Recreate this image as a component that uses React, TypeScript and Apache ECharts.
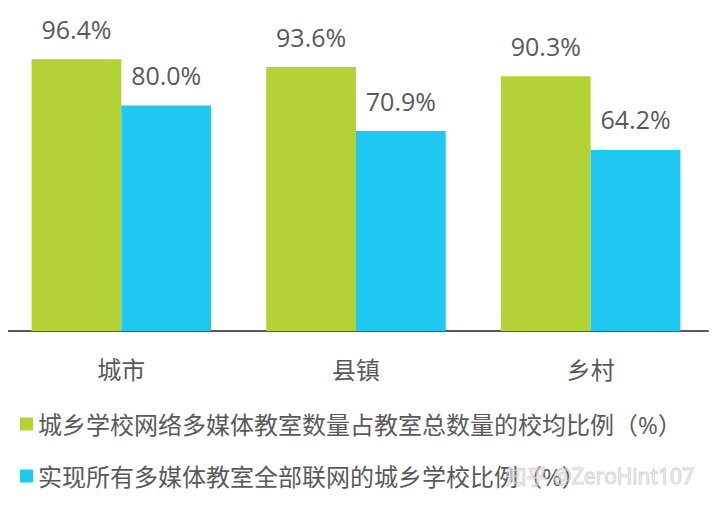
import React, { useEffect, useRef } from "react";
import * as echarts from "echarts";

const categories = ["城市", "县镇", "乡村"];
const seriesNames = [
  "城乡学校网络多媒体教室数量占教室总数量的校均比例（%）",
  "实现所有多媒体教室全部联网的城乡学校比例（%）",
];
const multimediaRatio = [96.4, 93.6, 90.3];
const networkedRatio = [80.0, 70.9, 64.2];

const FONT = "'Open Sans', 'Noto Sans CJK SC', sans-serif";
const TEXT = "#595959";
const GREEN = "#b2d235";
const CYAN = "#1fc8f0";

export default function App() {
  const ref = useRef<HTMLDivElement>(null);
  useEffect(() => {
    if (!ref.current) return;
    const chart = echarts.init(ref.current, null, { renderer: "svg" });
    const label = {
      show: true,
      position: "top",
      distance: 18,
      fontSize: 25,
      color: TEXT,
      fontFamily: FONT,
      formatter: (p: any) => p.value.toFixed(1) + "%",
    };
    const legendCommon = {
      left: 20,
      padding: 0,
      itemWidth: 13,
      itemHeight: 13,
      icon: "rect",
      textStyle: { fontSize: 24, color: TEXT, fontFamily: FONT },
      selectedMode: false,
    };
    chart.setOption({
      animation: false,
      textStyle: { fontFamily: FONT },
      grid: { left: 4, right: 10, top: 49, bottom: 176, containLabel: false },
      xAxis: {
        type: "category",
        data: categories,
        axisLine: { show: true, lineStyle: { color: TEXT, width: 2 } },
        axisTick: { show: false },
        axisLabel: { fontSize: 24, color: TEXT, margin: 26, fontFamily: FONT },
      },
      yAxis: { type: "value", min: 0, max: 100, show: false },
      legend: [
        { ...legendCommon, data: [seriesNames[0]], top: 412 },
        { ...legendCommon, data: [seriesNames[1]], top: 464 },
      ],
      series: [
        {
          name: seriesNames[0],
          type: "bar",
          data: multimediaRatio,
          itemStyle: { color: GREEN },
          barGap: "0%",
          barCategoryGap: "23.5%",
          label,
        },
        {
          name: seriesNames[1],
          type: "bar",
          data: networkedRatio,
          itemStyle: { color: CYAN },
          barGap: "0%",
          barCategoryGap: "23.5%",
          label,
        },
      ],
      graphic: [
        {
          type: "text",
          left: 505,
          top: 465,
          silent: true,
          z: 100,
          style: {
            text: "知乎 @ZeroHint107",
            fontSize: 21,
            fontFamily: FONT,
            fill: "rgba(235,235,235,0.6)",
            stroke: "rgba(150,150,150,0.5)",
            lineWidth: 1,
          },
        },
      ],
    });
    return () => chart.dispose();
  }, []);
  return <div ref={ref} style={{ width: 718, height: 507, margin: -8 }} />;
}
